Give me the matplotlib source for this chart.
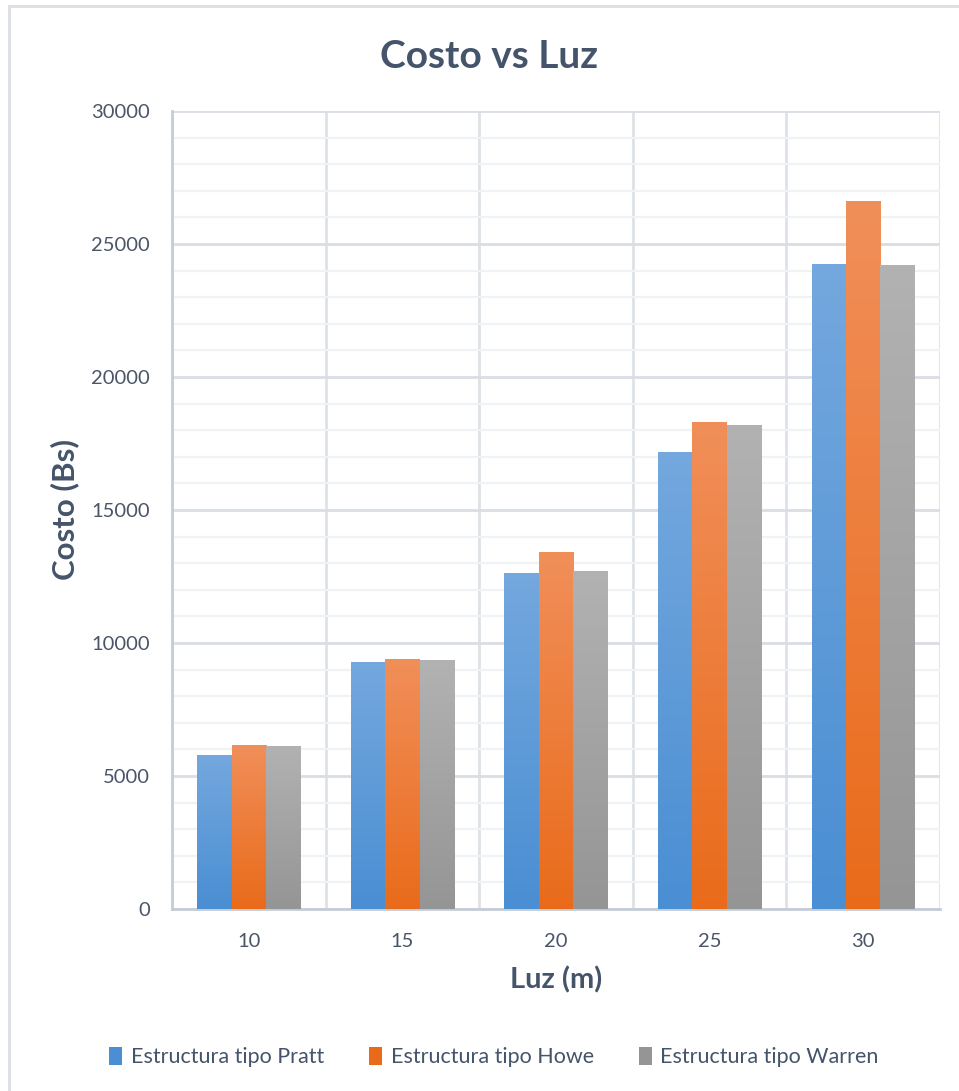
import numpy as np
import matplotlib.pyplot as plt
from matplotlib.colors import LinearSegmentedColormap
from matplotlib.patches import Rectangle
from matplotlib.ticker import MultipleLocator

plt.rcParams["font.family"] = ["Lato", "DejaVu Sans"]

luz = ["10", "15", "20", "25", "30"]
series_names = ["Estructura tipo Pratt", "Estructura tipo Howe", "Estructura tipo Warren"]
pratt = [5800, 9290, 12640, 17180, 24250]
howe = [6170, 9400, 13420, 18310, 26620]
warren = [6130, 9360, 12710, 18200, 24210]

# (top colour, bottom colour) for each series
gradients = [
    ("#74a8de", "#4a8ed3"),
    ("#f18f5a", "#e96b1a"),
    ("#b2b2b2", "#959595"),
]

text_color = "#44546a"
tick_color = "#4a5568"

fig = plt.figure(figsize=(9.59, 10.91), dpi=100)
fig.patch.set_facecolor("white")
ax = fig.add_axes([172 / 959, 1 - 909 / 1091, 768 / 959, 798 / 1091])

# light frame round the whole chart area
fig.add_artist(Rectangle((9 / 959, -0.05), 1.2, 1 - 6 / 1091 + 0.05,
                         transform=fig.transFigure, fill=False,
                         edgecolor="#dde1e6", linewidth=2.2))

x = np.arange(len(luz))
width = 0.224
offsets = [-width, 0, width]
handles = []
for vals, off, (top, bottom), name in zip([pratt, howe, warren], offsets, gradients, series_names):
    bars = ax.bar(x + off, vals, width, color=bottom, linewidth=0, zorder=3)
    cmap = LinearSegmentedColormap.from_list(name, [bottom, top])
    grad = np.linspace(0, 1, 256).reshape(-1, 1)
    for b in bars:
        bx, by = b.get_x(), b.get_y()
        im = ax.imshow(grad, cmap=cmap, origin="lower", aspect="auto",
                       extent=[bx, bx + b.get_width(), by, by + b.get_height()],
                       zorder=4)
        im.set_clip_path(b)
    handles.append(Rectangle((0, 0), 1, 1, facecolor=bottom, edgecolor="none"))

ax.set_xlim(-0.5, len(luz) - 0.5)
ax.set_ylim(0, 30000)
ax.set_xticks(x)
ax.set_xticklabels(luz)
ax.xaxis.set_minor_locator(MultipleLocator(1, offset=0.5))
ax.yaxis.set_major_locator(MultipleLocator(5000))
ax.yaxis.set_minor_locator(MultipleLocator(1000))

ax.grid(which="major", axis="y", color="#d9dee5", linewidth=2.0, zorder=1)
ax.grid(which="minor", axis="y", color="#f1f2f4", linewidth=1.6, zorder=0)
ax.grid(which="minor", axis="x", color="#dde2e8", linewidth=2.0, zorder=1)
ax.set_axisbelow(True)

for side in ["top", "right"]:
    ax.spines[side].set_visible(False)
ax.spines["left"].set_color("#c5ccd6")
ax.spines["left"].set_linewidth(2.0)
ax.spines["bottom"].set_color("#c5ccd6")
ax.spines["bottom"].set_linewidth(2.0)

ax.tick_params(which="both", length=0)
ax.tick_params(axis="y", labelsize=14.5, colors=tick_color, pad=16)
ax.tick_params(axis="x", labelsize=14.5, colors=tick_color, pad=17)

ax.set_xlabel("Luz (m)", fontsize=21, fontweight="bold", color=text_color)
ax.set_ylabel("Costo (Bs)", fontsize=22.5, fontweight="bold", color=text_color)
ax.xaxis.set_label_coords(0.5, (909 - 966) / 798)
ax.yaxis.set_label_coords((79 - 172) / 768, 0.5)
fig.suptitle("Costo vs Luz", x=489 / 959, y=1 - 57 / 1091, va="center",
             fontsize=28, fontweight="bold", color=text_color)

fig.legend(handles, series_names, loc="center", bbox_to_anchor=(0.515, 1 - 1057 / 1091),
           ncol=3, frameon=False, fontsize=15.5, labelcolor=text_color,
           handlelength=0.6, handleheight=0.9, handletextpad=0.4, columnspacing=2.1)

fig.savefig("out.png", dpi=100)
